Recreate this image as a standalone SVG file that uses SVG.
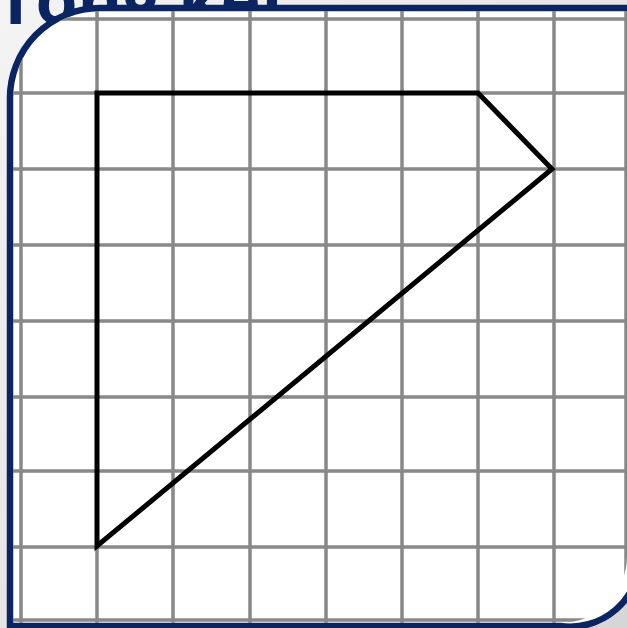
<svg xmlns="http://www.w3.org/2000/svg" width="627" height="628" viewBox="0 0 627 628">
<defs>
<linearGradient id="bg" x1="0" y1="0" x2="1" y2="1">
<stop offset="0" stop-color="#f4f4f4"/>
<stop offset="1" stop-color="#d6d6d6"/>
</linearGradient>
<clipPath id="inner">
<path d="M13,100 A87,87 0 0 1 100,11 L627,11 L627,556 A67,67 0 0 1 560,623 L13,623 Z"/>
</clipPath>
<style>
.grid{stroke:#888;stroke-width:3.5;fill:none}
.shape{stroke:#000;stroke-width:5;fill:none;stroke-linejoin:miter}
</style>
</defs>
<rect width="627" height="628" fill="url(#bg)"/>
<text x="-4" y="24" font-family="'Open Sans','DejaVu Sans',sans-serif" font-weight="bold" font-size="68" fill="#0b2462">Tổng kết</text>
<path d="M10,100 A90,90 0 0 1 100,8 L640,8 L640,556 A70,70 0 0 1 560,626 L10,626 Z" fill="#fff" stroke="#0b2462" stroke-width="6.5"/>
<g id="grid" clip-path="url(#inner)" class="grid">
<path d="M21,0V628M97,0V628M173,0V628M250,0V628M326,0V628M402,0V628M478,0V628M554,0V628M626,0V628"/>
<path d="M0,19H627M0,93H627M0,169H627M0,245H627M0,321H627M0,397H627M0,471H627M0,547H627M0,620H627"/>
</g>
<g id="shape">
<polygon class="shape" points="97,93 478,93 552,169 97,546"/>
</g>
</svg>
